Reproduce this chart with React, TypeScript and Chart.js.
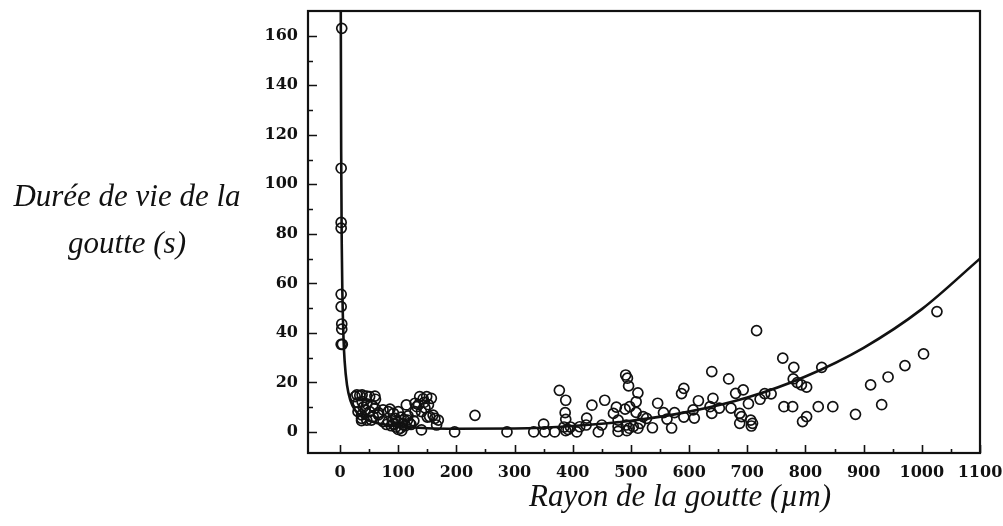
import React, { useEffect, useRef } from "react";
import { Chart, registerables } from "chart.js";

Chart.register(...registerables);

// Observed droplets: radius (µm) and lifetime (s)
const radii: number[] = [
  3, 2, 2, 2, 2, 2, 3, 3, 2, 4,
  26, 29, 34, 38, 46, 51, 60, 61, 31, 38, 46, 40, 56, 31, 37, 43, 51, 60, 37, 46, 57, 66, 37, 54, 66,
  74, 83, 92, 86, 100, 114, 129, 74, 83, 80, 88, 92, 96, 100, 104, 108, 112, 116, 120, 95, 105, 110, 100, 106, 90, 117, 122, 127,
  137, 149, 157, 143, 135, 145, 152, 129, 140, 146, 132, 154, 163, 169, 166, 140, 150, 160,
  197, 232, 287, 333,
  350, 352, 369, 377, 388, 387, 388, 385, 392, 396, 388, 407, 412, 424, 423, 433, 444, 450, 455, 470,
  475, 478, 478, 478, 491, 494, 496, 490, 492, 493, 497, 498, 509, 512, 509, 504, 512, 516, 521, 527,
  537, 546, 556, 562, 570, 575, 587, 591, 591, 607, 609, 616,
  636, 639, 641, 639, 652, 668, 672, 680, 687, 687, 690, 693, 702, 706, 709, 707, 716, 722, 730, 741,
  761, 763, 778, 780, 779, 786, 793, 802, 795, 802, 822, 828, 847,
  886, 912, 931, 942, 971, 1003, 1026,
];
const lifetimes: number[] = [
  163, 106.5, 84.6, 82.3, 55.6, 50.6, 43.6, 41.5, 35.4, 35.4,
  14.3, 15, 14.7, 15, 14.5, 14.3, 14.5, 13.2, 11.8, 12.3, 11.3, 10, 10.5, 8.2, 6.9, 8.9, 8.2, 9.6, 5.5, 4.8, 6.2, 6.9, 4.6, 4.8, 7.8,
  8.9, 8.2, 7.5, 9.2, 8.2, 10.9, 11.6, 4.2, 4.2, 3, 2.5, 3.2, 2, 4, 1.5, 3, 2.5, 4.8, 3.5, 5.5, 6, 5, 1, 0.5, 4.5, 6.5, 3, 4.5,
  14.3, 14.3, 13.6, 13.4, 11, 12, 11, 8.2, 8.2, 9.7, 10.2, 6.2, 5.5, 4.8, 2.8, 0.8, 6, 6.8,
  0, 6.7, 0, 0,
  3.2, 0, 0, 16.8, 12.8, 7.8, 5.1, 2, 1, 2, 0.5, 0, 2.1, 5.6, 2.8, 10.8, 0, 2.8, 12.8, 7.5,
  10, 4.8, 2.2, 0.2, 23, 21.7, 18.6, 9.2, 2.8, 0.5, 1.5, 10.2, 12.2, 15.8, 7.9, 2.2, 1.5, 3.5, 6.2, 5.5,
  1.7, 11.6, 7.8, 5.2, 1.6, 7.8, 15.5, 17.6, 6, 8.9, 5.6, 12.6,
  10.2, 24.4, 13.6, 7.5, 9.6, 21.4, 9.6, 15.6, 7.5, 3.5, 6.2, 17, 11.4, 4.8, 3.5, 2.4, 40.9, 13.2, 15.5, 15.4,
  29.8, 10.2, 10.2, 26.1, 21.4, 19.9, 19, 18.1, 4.2, 6.2, 10.2, 26.1, 10.2,
  7.1, 19, 11, 22.2, 26.8, 31.5, 48.6,
];

// Fitted curve
const fitRadii: number[] = [1.2, 1.35, 2, 3, 4, 6, 8, 12, 18, 26, 40, 60, 100, 150, 200, 300, 400, 500, 600, 700, 800, 900, 1000, 1100];
const fitLifetimes: number[] = [190, 169, 114, 76, 57, 38, 28.5, 19, 12.7, 8.8, 5.7, 3.8, 2.3, 1.5, 1.3, 1.4, 2.4, 4.5, 8.2, 13.9, 22.4, 34, 49.6, 70];

const xTickValues: number[] = [0, 100, 200, 300, 400, 500, 600, 700, 800, 900, 1000, 1100];
const xMinorValues: number[] = [50, 150, 250, 350, 450, 550, 650, 750, 850, 950, 1050];
const yTickValues: number[] = [0, 20, 40, 60, 80, 100, 120, 140, 160];
const yMinorValues: number[] = [10, 30, 50, 70, 90, 110, 130, 150];

const X_MIN = -55;
const X_MAX = 1100;
const Y_MIN = -8.5;
const Y_MAX = 170;

const yTitleLines: string[] = ["Durée de vie de la", "goutte (s)"];
const xTitle = "Rayon de la goutte (\u00b5m)";

const frameTicksPlugin = {
  id: "frameTicks",
  afterDraw(chart: any) {
    const { ctx, chartArea, scales } = chart;
    const { left, right, top, bottom } = chartArea;
    const xs = scales.x;
    const ys = scales.y;
    ctx.save();
    ctx.strokeStyle = "#111";
    ctx.lineWidth = 1.6;
    ctx.beginPath();
    for (const v of yTickValues) {
      const p = Math.round(ys.getPixelForValue(v)) + 0.5;
      ctx.moveTo(left, p);
      ctx.lineTo(left + 9, p);
    }
    for (const v of yMinorValues) {
      const p = Math.round(ys.getPixelForValue(v)) + 0.5;
      ctx.moveTo(left, p);
      ctx.lineTo(left + 5, p);
    }
    for (const v of xTickValues) {
      const p = Math.round(xs.getPixelForValue(v)) + 0.5;
      ctx.moveTo(p, bottom);
      ctx.lineTo(p, bottom - 8);
    }
    for (const v of xMinorValues) {
      const p = Math.round(xs.getPixelForValue(v)) + 0.5;
      ctx.moveTo(p, bottom);
      ctx.lineTo(p, bottom - 4);
    }
    ctx.stroke();
    ctx.lineWidth = 2.2;
    ctx.strokeRect(left, top, right - left, bottom - top);
    ctx.restore();
  },
};

export default function App() {
  const canvasRef = useRef<HTMLCanvasElement | null>(null);

  useEffect(() => {
    const canvas = canvasRef.current;
    if (!canvas) return;
    const tickFont = { family: "'DejaVu Serif', serif", weight: "bold" as const, size: 16 };
    const chart = new Chart(canvas, {
      type: "scatter",
      data: {
        datasets: [
          {
            type: "line",
            data: fitRadii.map((r, i) => ({ x: r, y: fitLifetimes[i] })),
            borderColor: "#111",
            borderWidth: 2.6,
            pointRadius: 0,
            fill: false,
            cubicInterpolationMode: "monotone",
          } as any,
          {
            type: "scatter",
            data: radii.map((r, i) => ({ x: r, y: lifetimes[i] })),
            borderColor: "#111",
            backgroundColor: "rgba(0,0,0,0)",
            borderWidth: 1.7,
            pointRadius: 5,
            pointHoverRadius: 5,
          },
        ],
      },
      options: {
        animation: false,
        responsive: false,
        devicePixelRatio: 1,
        layout: { padding: { left: 0, right: 23, top: 11, bottom: 0 } },
        plugins: { legend: { display: false }, tooltip: { enabled: false } },
        scales: {
          x: {
            type: "linear",
            min: X_MIN,
            max: X_MAX,
            grid: { display: false, drawTicks: false },
            border: { display: false },
            ticks: {
              font: tickFont,
              color: "#111",
              padding: 10,
              maxRotation: 0,
              callback: (v: any) => String(v),
            },
            afterBuildTicks: (s: any) => {
              s.ticks = xTickValues.map((v) => ({ value: v }));
            },
            afterFit: (s: any) => {
              s.height = 73;
              s.paddingLeft = 0;
              s.paddingRight = 0;
            },
          },
          y: {
            type: "linear",
            min: Y_MIN,
            max: Y_MAX,
            grid: { display: false, drawTicks: false },
            border: { display: false },
            ticks: { font: tickFont, color: "#111", padding: 10, callback: (v: any) => String(v) },
            afterBuildTicks: (s: any) => {
              s.ticks = yTickValues.map((v) => ({ value: v }));
            },
            afterFit: (s: any) => {
              s.width = 308;
              s.paddingTop = 0;
              s.paddingBottom = 0;
            },
          },
        },
      } as any,
      plugins: [frameTicksPlugin],
    });
    return () => chart.destroy();
  }, []);

  const titleFont: React.CSSProperties = {
    position: "absolute",
    fontFamily: "'Liberation Serif', 'Times New Roman', serif",
    fontStyle: "italic",
    fontSize: "31px",
    lineHeight: "31px",
    color: "#111",
    textAlign: "center",
    whiteSpace: "nowrap",
  };

  return (
    <div style={{ position: "fixed", left: 0, top: 0, width: 1003, height: 526, background: "#fff" }}>
      <canvas ref={canvasRef} width={1003} height={526} style={{ position: "absolute", left: 0, top: 0 }} />
      <div style={{ ...titleFont, left: 0, width: 254, top: 180 }}>{yTitleLines[0]}</div>
      <div style={{ ...titleFont, left: 0, width: 254, top: 227 }}>{yTitleLines[1]}</div>
      <div style={{ ...titleFont, left: 380, width: 600, top: 480 }}>{xTitle}</div>
    </div>
  );
}
